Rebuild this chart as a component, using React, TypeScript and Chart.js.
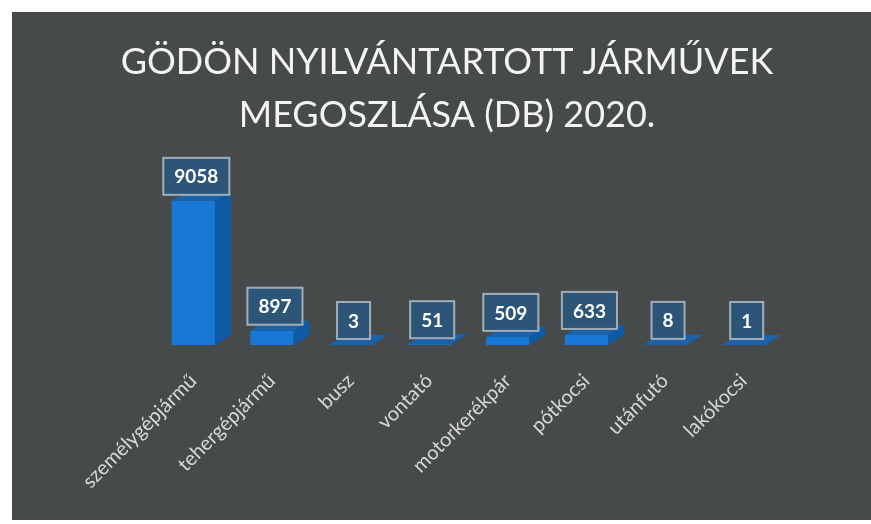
import React, { useEffect, useRef } from "react";
import { Chart, registerables } from "chart.js";

Chart.register(...registerables);

const categories = [
  "személygépjármű",
  "tehergépjármű",
  "busz",
  "vontató",
  "motorkerékpár",
  "pótkocsi",
  "utánfutó",
  "lakókocsi",
];
const counts = [9058, 897, 3, 51, 509, 633, 8, 1];
const titleLines = ["GÖDÖN NYILVÁNTARTOTT JÁRMŰVEK", "MEGOSZLÁSA (DB) 2020."];

const BG = "#474a4b";
const FRONT = "#1878d6";
const SIDE = "#0d5aa6";
const TOP = "#1a62aa";
const DX = 16;
const DY = 10;

const bar3d = {
  id: "bar3d",
  beforeDraw(chart: any) {
    const ctx = chart.ctx;
    ctx.save();
    ctx.fillStyle = BG;
    ctx.fillRect(0, 0, chart.width, chart.height);
    ctx.restore();
  },
  afterDatasetsDraw(chart: any) {
    const ctx = chart.ctx;
    const meta = chart.getDatasetMeta(0);
    ctx.save();
    meta.data.forEach((bar: any) => {
      const { x, y, base, width } = bar.getProps(["x", "y", "base", "width"], true);
      const l = x - width / 2;
      const r = x + width / 2;
      ctx.fillStyle = SIDE;
      ctx.beginPath();
      ctx.moveTo(r, y);
      ctx.lineTo(r + DX, y - DY);
      ctx.lineTo(r + DX, base - DY);
      ctx.lineTo(r, base);
      ctx.closePath();
      ctx.fill();
      ctx.fillStyle = TOP;
      ctx.beginPath();
      ctx.moveTo(l, y);
      ctx.lineTo(l + DX, y - DY);
      ctx.lineTo(r + DX, y - DY);
      ctx.lineTo(r, y);
      ctx.closePath();
      ctx.fill();
    });
    meta.data.forEach((bar: any, i: number) => {
      const { x, y } = bar.getProps(["x", "y"], true);
      const txt = String(counts[i]);
      ctx.font = "bold 19px Lato";
      const tw = ctx.measureText(txt).width;
      const bw = tw + 22;
      const bh = 37;
      const cx = x + 3;
      const bottom = y - 6;
      ctx.fillStyle = "#2c5577";
      ctx.fillRect(cx - bw / 2, bottom - bh, bw, bh);
      ctx.strokeStyle = "#a3adb5";
      ctx.lineWidth = 2;
      ctx.strokeRect(cx - bw / 2, bottom - bh, bw, bh);
      ctx.fillStyle = "#ffffff";
      ctx.textAlign = "center";
      ctx.textBaseline = "middle";
      ctx.fillText(txt, cx, bottom - bh / 2 + 1);
    });
    ctx.restore();
  },
};

export default function App() {
  const ref = useRef<HTMLCanvasElement>(null);
  useEffect(() => {
    if (!ref.current) return;
    const chart = new Chart(ref.current, {
      type: "bar",
      data: {
        labels: categories,
        datasets: [
          {
            data: counts,
            backgroundColor: FRONT,
            borderWidth: 0,
            barPercentage: 0.55,
            categoryPercentage: 1,
          },
        ],
      },
      options: {
        responsive: false,
        animation: false,
        devicePixelRatio: 1,
        layout: { padding: { left: 99, right: 88, top: 0, bottom: 0 } },
        plugins: {
          legend: { display: false },
          tooltip: { enabled: false },
          title: {
            display: true,
            text: titleLines,
            color: "#f4f4f4",
            font: { family: "Lato", size: 36, weight: "normal", lineHeight: 1.47 },
            padding: { top: 24, bottom: 44 },
          },
        },
        scales: {
          x: {
            grid: { display: false },
            border: { display: false },
            ticks: {
              color: "#d8d8d8",
              font: { family: "Lato", size: 20 },
              maxRotation: 45,
              minRotation: 45,
              padding: 16,
            },
            afterFit(scale: any) {
              scale.height = 175;
            },
          },
          y: {
            min: 0,
            max: 10000,
            grid: { display: false },
            border: { display: false },
            ticks: { display: false },
            afterFit(scale: any) {
              scale.width = 43;
            },
          },
        },
      },
      plugins: [bar3d],
    });
    return () => chart.destroy();
  }, []);
  return (
    <div style={{ position: "fixed", left: 0, top: 0, width: 871, height: 524, background: "#ffffff" }}>
      <canvas
        ref={ref}
        width={859}
        height={508}
        style={{ position: "absolute", left: 12, top: 12, width: 859, height: 508 }}
      />
    </div>
  );
}
